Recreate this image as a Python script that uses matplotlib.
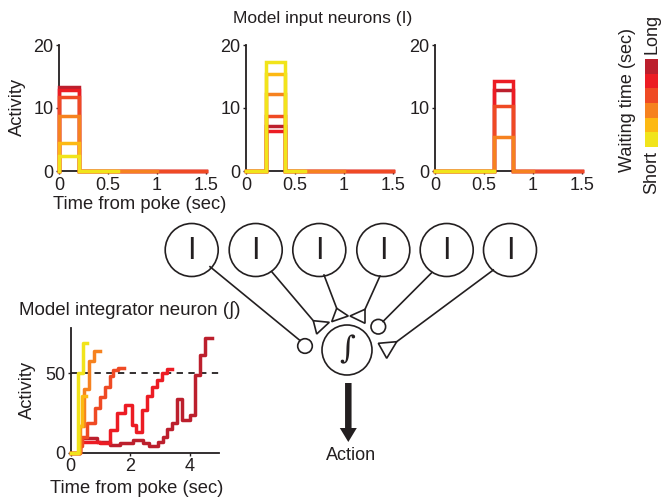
import matplotlib
matplotlib.use('Agg')
import matplotlib.pyplot as plt
import numpy as np
from matplotlib.patches import Circle, Polygon, FancyArrow
from matplotlib.colors import ListedColormap

plt.rcParams['font.family'] = ['Liberation Sans', 'DejaVu Sans']
plt.rcParams['text.color'] = '#231f20'
plt.rcParams['xtick.labelcolor'] = '#231f20'
plt.rcParams['ytick.labelcolor'] = '#231f20'

W, H = 662, 498

# waiting-time groups, short -> long
group_colors = ['#f1e41b', '#fdb913', '#f6821f', '#ef4a24', '#ec1c24', '#bc1f2d']
wait_times = [0.6, 0.58, 1.0, 1.8, 3.4, 4.8]

# input neurons: firing window (sec) and height per waiting-time group
neuron_windows = [(0.0, 0.2), (0.2, 0.4), (0.6, 0.8)]
neuron1_heights = [2.4, 4.4, 8.7, 11.8, 12.8, 13.3]
neuron2_heights = [17.3, 15.4, 12.2, 8.8, 6.4, 7.1]
neuron3_heights = [0.0, 0.0, 5.4, 10.3, 14.3, 12.8]
neuron_heights = [neuron1_heights, neuron2_heights, neuron3_heights]

# integrator traces (step times and levels), short -> long
int_t_yellow = [0, 0.24, 0.42, 0.56]
int_y_yellow = [0, 50, 69, 69]
int_t_amber = [0, 0.28, 0.38, 0.5]
int_y_amber = [0, 17, 36, 36]
int_t_orange = [0, 0.3, 0.45, 0.6, 0.8, 0.99]
int_y_orange = [0, 17, 40, 58, 64, 64]
int_t_orangered = [0, 0.3, 0.37, 0.54, 0.82, 0.99, 1.16, 1.32, 1.44, 1.6, 1.8]
int_y_orangered = [0, 4, 10, 18.5, 28, 35, 41.6, 48, 52, 53.5, 53.5]
int_t_red = [0, 0.3, 1.0, 1.32, 1.55, 1.83, 2.08, 2.2, 2.4, 2.56, 2.73, 2.9, 3.06, 3.23, 3.4]
int_y_red = [0, 7, 6, 14, 25, 30, 17.4, 13, 27, 36, 41.6, 46, 50, 53, 53]
int_t_darkred = [0, 0.31, 0.88, 1.32, 1.66, 2.11, 2.45, 2.62, 2.95, 3.12, 3.23, 3.4,
                 3.59, 3.74, 4.02, 4.19, 4.35, 4.52, 4.75]
int_y_darkred = [0, 9, 7, 5, 6, 8, 6, 4.4, 7, 10, 15, 18.5, 34, 20.6, 23.7, 49, 61.5, 72.5, 72.5]
int_traces = [(int_t_yellow, int_y_yellow), (int_t_amber, int_y_amber),
              (int_t_orange, int_y_orange), (int_t_orangered, int_y_orangered),
              (int_t_red, int_y_red), (int_t_darkred, int_y_darkred)]
threshold = 50


def px_rect(left, top, right, bottom):
    return [left / W, 1 - bottom / H, (right - left) / W, (bottom - top) / H]


def style_axes(ax):
    for s in ['top', 'right']:
        ax.spines[s].set_visible(False)
    for s in ['left', 'bottom']:
        ax.spines[s].set_linewidth(1.3)
        ax.spines[s].set_color('#231f20')
    ax.tick_params(direction='out', length=2.5, width=1, labelsize=13, pad=1.5,
                   color='#231f20')
    ax.set_facecolor('none')


fig = plt.figure(figsize=(W / 100, H / 100), dpi=100)

# diagram / text layer in pixel coordinates
ad = fig.add_axes([0, 0, 1, 1])
ad.set_xlim(0, W)
ad.set_ylim(H, 0)
ad.axis('off')

# top panels: input neurons
panel_rects = [(59, 45, 206, 171), (246, 45, 393, 171), (435, 45, 582, 171)]
x_max = 1.5
for (t_on, t_off), heights, rect in zip(neuron_windows, neuron_heights, panel_rects):
    ax = fig.add_axes(px_rect(*rect))
    style_axes(ax)
    for i in range(5, -1, -1):
        end = min(wait_times[i], x_max)
        h = heights[i]
        if end <= t_on:
            xs, ys = [0, end], [0, 0]
        else:
            xs = [0, t_on, t_on, t_off, t_off, max(end, t_off)]
            ys = [0, 0, h, h, 0, 0]
        ax.plot(xs, ys, color=group_colors[i], lw=2.5, clip_on=False,
                solid_joinstyle='miter', zorder=3 + (5 - i))
    ax.set_xlim(0, x_max)
    ax.set_ylim(0, 20)
    ax.set_xticks([0, 0.5, 1, 1.5], ['0', '0.5', '1', '1.5'])
    ax.set_yticks([0, 10, 20], ['0', '10', '20'])

# integrator panel
ai = fig.add_axes(px_rect(70.7, 328, 219.2, 452.7))
style_axes(ai)
ai.axhline(threshold, color='#231f20', lw=1.3, ls=(0, (3.5, 3)), zorder=2)
for i in range(5, -1, -1):
    t, y = int_traces[i]
    ai.plot(t, y, drawstyle='steps-post', color=group_colors[i], lw=2.5,
            clip_on=False, zorder=3 + (5 - i))
ai.set_xlim(0, 5)
ai.set_ylim(0, 78.5)
ai.set_xticks([0, 2, 4], ['0', '2', '4'])
ai.set_yticks([0, 50], ['0', '50'])

# colour key
ac = fig.add_axes(px_rect(645, 59, 658, 147))
ac.imshow(np.arange(6)[::-1, None], cmap=ListedColormap(group_colors), aspect='auto',
          interpolation='nearest')
ac.axis('off')

# texts
ad.text(323, 18, 'Model input neurons (I)', fontsize=12.5, ha='center', va='center')
ad.text(130, 310, 'Model integrator neuron (\u222b)', fontsize=13.5, ha='center', va='center')
ad.text(140, 204, 'Time from poke (sec)', fontsize=13.2, ha='center', va='center')
ad.text(137, 488, 'Time from poke (sec)', fontsize=13.2, ha='center', va='center')
ad.text(17, 107, 'Activity', fontsize=13.2, ha='center', va='center', rotation=90)
ad.text(27, 390, 'Activity', fontsize=13.2, ha='center', va='center', rotation=90)
ad.text(627, 100, 'Waiting time (sec)', fontsize=13, ha='center', va='center', rotation=90)
ad.text(652, 34, 'Long', fontsize=13, ha='center', va='center', rotation=90)
ad.text(652, 172, 'Short', fontsize=13, ha='center', va='center', rotation=90)
ad.text(351, 455, 'Action', fontsize=13, ha='center', va='center')

# network diagram
input_x = [191.7, 255.7, 319.3, 383.3, 446.7, 510]
input_y = 250
for cx in input_x:
    ad.add_patch(Circle((cx, input_y), 26.5, fill=False, lw=1.2, ec='#231f20'))
    ad.text(cx, input_y + 1, 'I', fontsize=22, ha='center', va='center')

ad.add_patch(Circle((347, 350), 25, fill=False, lw=1.2, ec='#231f20'))
ad.text(347, 350, '\u222b', fontsize=22, ha='center', va='center',
        family=['DejaVu Serif', 'DejaVu Sans'])

wires = [((210, 266.7), (300, 340.5)),
         ((271.7, 271.7), (313.3, 320.7)),
         ((324, 275), (336.7, 308.3)),
         ((380, 276), (365, 309.3)),
         ((431.7, 272.7), (383, 321.5)),
         ((493.3, 270), (396.7, 341.7))]
for (x0, y0), (x1, y1) in wires:
    ad.plot([x0, x1], [y0, y1], color='#231f20', lw=1.2)

triangles = [[(313.3, 320.7), (329.3, 322.3), (316.7, 334)],
             [(331.7, 321.7), (336.7, 308.3), (348.3, 316)],
             [(350, 316), (365, 309.3), (365, 323.3)],
             [(378.3, 343.3), (396.7, 341.7), (386.7, 358.3)]]
for tri in triangles:
    ad.add_patch(Polygon(tri, closed=True, fill=False, lw=1.2, ec='#231f20', joinstyle='miter'))

for cx, cy in [(305, 346), (378.3, 326.7)]:
    ad.add_patch(Circle((cx, cy), 7.3, fill=False, lw=1.2, ec='#231f20'))

ad.add_patch(FancyArrow(348.3, 383, 0, 59, width=6.5, head_width=17, head_length=14,
                        length_includes_head=True, color='#231f20', lw=0))

fig.savefig('out.png', dpi=100)
